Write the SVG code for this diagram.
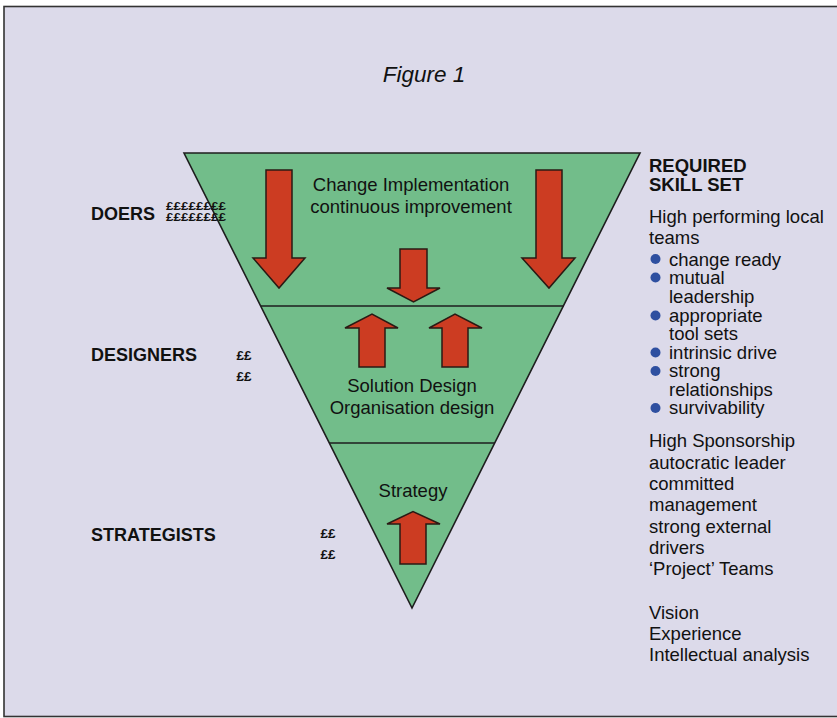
<svg xmlns="http://www.w3.org/2000/svg" width="837" height="718" viewBox="0 0 837 718">
  <style>
    .frame { fill: #dcdaea; stroke: #333; stroke-width: 1.6; }
    .tier { fill: #72bd8a; stroke: #1e1e1e; stroke-width: 1.6; }
    .divider { stroke: #1e1e1e; stroke-width: 1.6; fill: none; }
    .arrow { fill: #cc3c22; stroke: #2a1a14; stroke-width: 1.5; stroke-linejoin: miter; }
    text { font-family: "Liberation Sans", Arial, Helvetica, sans-serif; fill: #111; }
    .t { font-size: 18.5px; }
    .mid { text-anchor: middle; }
    .b { font-weight: bold; font-size: 18.5px; }
    .lb { font-weight: bold; font-size: 18px; }
    .cost { font-size: 13.5px; font-weight: bold; }
    .cost-s { font-size: 11px; font-weight: bold; }
    .dot { fill: #2e4fa0; }
  </style>

  <!-- page frame -->
  <rect class="frame" x="4" y="6.5" width="840" height="710"/>

  <text x="424" y="82" class="mid" style="font-size:22.5px;font-style:italic">Figure 1</text>

  <!-- inverted triangle split into three tiers -->
  <g id="pyramid">
    <polygon class="tier" points="184,153 640,153 412,608"/>
    <line class="divider" x1="261" y1="306" x2="564" y2="306"/>
    <line class="divider" x1="329" y1="443" x2="495" y2="443"/>
  </g>

  <g id="tier-doers">
    <text class="t mid" x="411" y="191">Change Implementation</text>
    <text class="t mid" x="411" y="213">continuous improvement</text>
  </g>
  <g id="tier-designers">
    <text class="t mid" x="412" y="392">Solution Design</text>
    <text class="t mid" x="412" y="414">Organisation design</text>
  </g>
  <g id="tier-strategists">
    <text class="t mid" x="413" y="497">Strategy</text>
  </g>

  <!-- block arrows -->
  <g id="arrows">
    <polygon class="arrow" points="266,170 292,170 292,258 305,258 279,288 253,258 266,258"/>
    <polygon class="arrow" points="536,170 562,170 562,258 575,258 549,288 522,258 536,258"/>
    <polygon class="arrow" points="400,249 427,249 427,288 440,288 413.5,302 387,288 400,288"/>
    <polygon class="arrow" points="359,367 385,367 385,328 398,328 372,314 345,328 359,328"/>
    <polygon class="arrow" points="442,367 468,367 468,328 482,328 455,314 429,328 442,328"/>
    <polygon class="arrow" points="400,564 426,564 426,524 440,524 413,511.5 387,524 400,524"/>
  </g>

  <!-- role labels with cost markers -->
  <g id="label-doers">
    <text class="lb" x="91" y="220">DOERS</text>
    <text class="cost-s" x="166" y="210" textLength="60" lengthAdjust="spacingAndGlyphs">££££££££</text>
    <text class="cost-s" x="166" y="220.5" textLength="60" lengthAdjust="spacingAndGlyphs">££££££££</text>
  </g>
  <g id="label-designers">
    <text class="lb" x="91" y="361">DESIGNERS</text>
    <text class="cost" x="236.5" y="359.5">££</text>
    <text class="cost" x="236.5" y="380.5">££</text>
  </g>
  <g id="label-strategists">
    <text class="lb" x="91" y="541">STRATEGISTS</text>
    <text class="cost" x="320.5" y="538">££</text>
    <text class="cost" x="320.5" y="559">££</text>
  </g>

  <!-- skill set column -->
  <g id="skill-set">
    <text class="b" x="649" y="172">REQUIRED</text>
    <text class="b" x="649" y="190.5">SKILL SET</text>
    <text class="t" x="649" y="222.5">High performing local</text>
    <text class="t" x="649" y="243.5">teams</text>

    <circle class="dot" cx="655.5" cy="259" r="5"/>
    <circle class="dot" cx="655.5" cy="277.5" r="5"/>
    <circle class="dot" cx="655.5" cy="315.5" r="5"/>
    <circle class="dot" cx="655.5" cy="352.5" r="5"/>
    <circle class="dot" cx="655.5" cy="371" r="5"/>
    <circle class="dot" cx="655.5" cy="408" r="5"/>
    <text class="t" x="669" y="265.5">change ready</text>
    <text class="t" x="669" y="284">mutual</text>
    <text class="t" x="669" y="302.5">leadership</text>
    <text class="t" x="669" y="321.5">appropriate</text>
    <text class="t" x="669" y="339.5">tool sets</text>
    <text class="t" x="669" y="358.5">intrinsic drive</text>
    <text class="t" x="669" y="377">strong</text>
    <text class="t" x="669" y="395.5">relationships</text>
    <text class="t" x="669" y="414">survivability</text>

    <text class="t" x="649" y="447">High Sponsorship</text>
    <text class="t" x="649" y="468.5">autocratic leader</text>
    <text class="t" x="649" y="490">committed</text>
    <text class="t" x="649" y="511">management</text>
    <text class="t" x="649" y="532.5">strong external</text>
    <text class="t" x="649" y="553.5">drivers</text>
    <text class="t" x="649" y="574.5">‘Project’ Teams</text>
    <text class="t" x="649" y="618.5">Vision</text>
    <text class="t" x="649" y="639.5">Experience</text>
    <text class="t" x="649" y="660.5">Intellectual analysis</text>
  </g>
</svg>
